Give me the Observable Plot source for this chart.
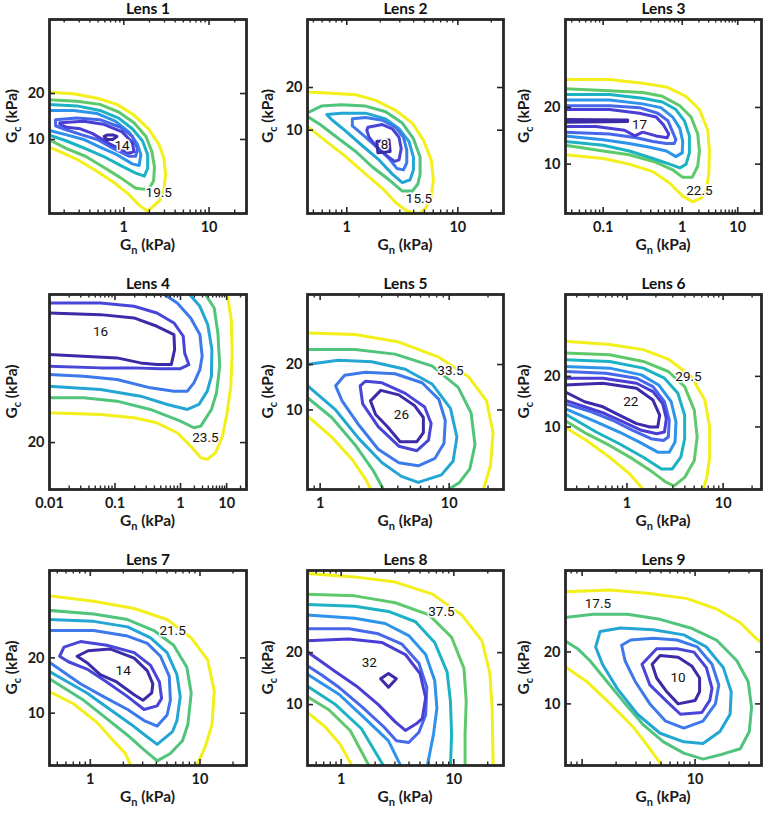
<!DOCTYPE html>
<html><head><meta charset="utf-8">
<script src="https://cdn.jsdelivr.net/npm/d3@7"></script>
<script src="https://cdn.jsdelivr.net/npm/@observablehq/plot@0.6"></script>
<style>
body{margin:0;background:#fff;}
#wrap{position:relative;width:764px;height:814px;overflow:hidden;}
#wrap svg{position:absolute;overflow:visible;}
</style></head><body><div id="wrap"></div>
<script>
// Panel titles and axis tick labels
const titles = ["Lens 1","Lens 2","Lens 3","Lens 4","Lens 5","Lens 6","Lens 7","Lens 8","Lens 9"];
const xTickValues = [[1,10],[1,10],[0.1,1,10],[0.01,0.1,1,10],[1,10],[1,10],[1,10],[1,10],[10]];
const yTickValues = [[10,20],[10,20],[10,20],[20],[10,20],[10,20],[10,20],[10,20],[10,20]];
const levelCounts = [7,6,7,6,6,7,6,7,6];

// Contours: [level index (1 = lowest), closed (1/0), [[log10 Gn, log10 Gc], ...]]
const lens1 = [
 [7,0,[[-0.88,1.31],[-0.59,1.30],[-0.31,1.27],[-0.08,1.23],[0.12,1.16],[0.29,1.07],[0.41,0.97],[0.47,0.88],[0.49,0.77],[0.47,0.67],[0.42,0.60],[0.28,0.53],[0.18,0.57],[0.06,0.64],[-0.12,0.72],[-0.31,0.79],[-0.55,0.87],[-0.75,0.92],[-0.88,0.95]]],
 [6,0,[[-0.88,1.26],[-0.55,1.25],[-0.28,1.23],[-0.06,1.18],[0.12,1.11],[0.26,1.02],[0.33,0.92],[0.36,0.82],[0.35,0.73],[0.29,0.67],[0.14,0.68],[-0.04,0.75],[-0.24,0.82],[-0.45,0.89],[-0.67,0.94],[-0.88,1.0]]],
 [5,0,[[-0.88,1.23],[-0.55,1.22],[-0.28,1.19],[-0.06,1.14],[0.10,1.07],[0.22,0.99],[0.28,0.90],[0.28,0.81],[0.24,0.76],[0.14,0.78],[-0.04,0.83],[-0.24,0.89],[-0.45,0.94],[-0.67,0.99],[-0.88,1.03]]],
 [4,0,[[-0.88,1.19],[-0.59,1.19],[-0.31,1.17],[-0.10,1.12],[0.06,1.05],[0.16,0.97],[0.20,0.90],[0.18,0.83],[0.10,0.84],[-0.08,0.90],[-0.28,0.95],[-0.47,1.0],[-0.67,1.03],[-0.88,1.06]]],
 [3,1,[[-0.80,1.13],[-0.55,1.14],[-0.28,1.13],[-0.04,1.08],[0.10,1.02],[0.16,0.94],[0.14,0.89],[0.06,0.89],[-0.12,0.94],[-0.31,1.0],[-0.49,1.03],[-0.71,1.07],[-0.80,1.09]]],
 [2,1,[[-0.75,1.11],[-0.47,1.12],[-0.24,1.10],[-0.02,1.05],[0.10,0.98],[0.12,0.92],[0.06,0.91],[-0.16,0.97],[-0.37,1.04],[-0.51,1.07],[-0.67,1.08],[-0.75,1.10]]],
 [1,1,[[-0.23,1.02],[-0.19,1.03],[-0.13,1.03],[-0.08,1.02],[-0.13,1.0],[-0.20,1.0]]]
];
const lens2 = [
 [6,0,[[-0.36,1.27],[-0.14,1.26],[0.08,1.25],[0.26,1.21],[0.44,1.14],[0.59,1.05],[0.69,0.93],[0.76,0.79],[0.78,0.65],[0.76,0.53],[0.71,0.45],[0.65,0.41],[0.54,0.43],[0.44,0.49],[0.32,0.59],[0.17,0.69],[-0.02,0.82],[-0.20,0.93],[-0.36,1.03]]],
 [5,0,[[-0.36,1.12],[-0.23,1.17],[-0.05,1.18],[0.17,1.17],[0.35,1.13],[0.50,1.05],[0.60,0.94],[0.66,0.81],[0.66,0.69],[0.64,0.62],[0.59,0.57],[0.50,0.57],[0.38,0.65],[0.23,0.74],[0.08,0.85],[-0.09,0.95],[-0.24,1.04],[-0.36,1.10]]],
 [4,1,[[-0.18,1.11],[-0.05,1.12],[0.17,1.12],[0.35,1.08],[0.47,1.01],[0.56,0.92],[0.60,0.81],[0.60,0.72],[0.57,0.65],[0.50,0.63],[0.41,0.69],[0.29,0.79],[0.14,0.89],[-0.02,1.0],[-0.13,1.07]]],
 [3,1,[[0.05,1.08],[0.17,1.09],[0.32,1.07],[0.44,1.02],[0.51,0.95],[0.54,0.86],[0.54,0.77],[0.51,0.72],[0.45,0.73],[0.38,0.80],[0.27,0.88],[0.14,0.97],[0.05,1.03]]],
 [2,1,[[0.19,1.02],[0.32,1.04],[0.41,1.01],[0.47,0.95],[0.49,0.87],[0.47,0.79],[0.43,0.78],[0.36,0.82],[0.27,0.88],[0.20,0.95],[0.18,1.0]]],
 [1,1,[[0.27,0.92],[0.38,0.93],[0.39,0.85],[0.28,0.84]]]
];
const lens3 = [
 [7,0,[[-1.48,1.45],[-0.92,1.45],[-0.50,1.43],[-0.20,1.41],[0.07,1.36],[0.31,1.29],[0.46,1.18],[0.49,1.07],[0.48,0.95],[0.43,0.86],[0.34,0.82],[0.19,0.80],[0.01,0.83],[-0.16,0.90],[-0.37,0.96],[-0.67,1.0],[-1.0,1.03],[-1.48,1.05]]],
 [6,0,[[-1.48,1.40],[-0.92,1.39],[-0.50,1.38],[-0.25,1.36],[-0.03,1.31],[0.16,1.25],[0.28,1.16],[0.31,1.07],[0.28,0.99],[0.18,0.93],[0.01,0.93],[-0.12,0.97],[-0.33,1.01],[-0.67,1.05],[-1.0,1.07],[-1.48,1.10]]],
 [5,0,[[-1.48,1.37],[-0.92,1.37],[-0.50,1.35],[-0.25,1.33],[-0.08,1.29],[0.04,1.23],[0.13,1.15],[0.13,1.06],[0.07,1.0],[-0.03,0.98],[-0.16,1.0],[-0.37,1.03],[-0.67,1.07],[-1.0,1.10],[-1.48,1.12]]],
 [4,0,[[-1.48,1.34],[-0.92,1.34],[-0.50,1.32],[-0.27,1.30],[-0.12,1.25],[-0.03,1.19],[0.01,1.12],[0.0,1.06],[-0.08,1.04],[-0.20,1.07],[-0.41,1.09],[-0.67,1.11],[-1.0,1.13],[-1.48,1.15]]],
 [3,0,[[-1.48,1.31],[-0.92,1.31],[-0.54,1.30],[-0.31,1.27],[-0.18,1.23],[-0.12,1.17],[-0.08,1.13],[-0.10,1.11],[-0.20,1.11],[-0.37,1.12],[-0.58,1.14],[-0.92,1.16],[-1.48,1.17]]],
 [2,0,[[-1.48,1.29],[-0.92,1.29],[-0.54,1.27],[-0.33,1.25],[-0.24,1.21],[-0.17,1.16],[-0.19,1.14],[-0.33,1.15],[-0.50,1.17],[-0.60,1.15],[-0.73,1.18],[-1.09,1.20],[-1.48,1.20]]],
 [1,1,[[-1.48,1.237],[-0.69,1.234],[-0.69,1.227],[-1.48,1.223]]]
];
const lens4 = [
 [6,0,[[1.01,2.20],[1.10,2.04],[1.12,1.84],[1.09,1.64],[1.01,1.48],[0.91,1.34],[0.76,1.24],[0.58,1.20],[0.44,1.21],[0.22,1.28],[-0.05,1.36],[-0.36,1.42],[-0.71,1.45],[-1.22,1.47],[-2.01,1.48]]],
 [5,0,[[0.52,2.20],[0.73,2.11],[0.81,1.96],[0.85,1.76],[0.78,1.60],[0.67,1.50],[0.44,1.40],[0.29,1.39],[0.0,1.43],[-0.46,1.50],[-0.97,1.55],[-1.48,1.57],[-2.01,1.57]]],
 [4,0,[[0.17,2.20],[0.42,2.12],[0.59,2.01],[0.68,1.86],[0.67,1.70],[0.58,1.61],[0.40,1.53],[0.15,1.50],[-0.20,1.53],[-0.61,1.58],[-1.22,1.62],[-2.01,1.64]]],
 [3,0,[[-0.28,2.20],[-0.05,2.14],[0.22,2.05],[0.42,1.95],[0.47,1.82],[0.42,1.74],[0.29,1.66],[0.15,1.61],[-0.10,1.61],[-0.46,1.63],[-0.97,1.68],[-1.48,1.70],[-2.01,1.71]]],
 [2,0,[[-2.01,2.14],[-1.22,2.14],[-0.71,2.12],[-0.36,2.08],[-0.10,2.02],[0.06,1.94],[0.09,1.84],[0.18,1.77],[0.0,1.745],[-0.31,1.745],[-0.71,1.75],[-1.22,1.75],[-2.01,1.76]]],
 [1,0,[[-2.01,2.08],[-1.22,2.07],[-0.71,2.05],[-0.36,2.0],[-0.10,1.95],[-0.09,1.86],[-0.14,1.77],[-0.36,1.77],[-0.61,1.78],[-0.97,1.81],[-2.01,1.83]]]
];
const lens5 = [
 [6,0,[[-0.11,1.51],[0.27,1.50],[0.61,1.45],[0.92,1.35],[1.15,1.22],[1.29,1.06],[1.34,0.85],[1.32,0.63],[1.26,0.46]]],
 [6,0,[[-0.11,0.97],[0.09,0.82],[0.25,0.67],[0.36,0.53],[0.40,0.46]]],
 [5,0,[[-0.11,1.40],[0.27,1.40],[0.58,1.37],[0.87,1.29],[1.07,1.15],[1.17,0.98],[1.20,0.77],[1.16,0.61],[1.08,0.52],[0.97,0.46]]],
 [5,0,[[-0.11,1.09],[0.09,0.95],[0.27,0.77],[0.41,0.60],[0.50,0.46]]],
 [4,0,[[-0.11,1.30],[0.14,1.33],[0.40,1.32],[0.66,1.27],[0.87,1.17],[1.01,1.01],[1.06,0.82],[1.03,0.66],[0.94,0.57],[0.76,0.52],[0.63,0.56],[0.48,0.65],[0.30,0.81],[0.12,1.0],[-0.11,1.17]]],
 [3,1,[[0.12,1.16],[0.19,1.23],[0.35,1.25],[0.58,1.24],[0.79,1.18],[0.92,1.07],[0.97,0.93],[0.96,0.78],[0.89,0.68],[0.76,0.63],[0.61,0.65],[0.45,0.74],[0.30,0.90],[0.17,1.06]]],
 [2,1,[[0.31,1.16],[0.35,1.19],[0.48,1.18],[0.66,1.11],[0.81,1.02],[0.86,0.91],[0.84,0.80],[0.75,0.73],[0.61,0.76],[0.45,0.89],[0.33,1.04]]],
 [1,1,[[0.39,1.06],[0.47,1.13],[0.61,1.10],[0.73,1.03],[0.80,0.95],[0.80,0.85],[0.75,0.79],[0.62,0.79],[0.52,0.89],[0.43,0.97]]]
];
const lens6 = [
 [7,0,[[-0.65,1.51],[-0.18,1.49],[0.17,1.46],[0.44,1.40],[0.67,1.30],[0.81,1.16],[0.86,1.0],[0.86,0.82],[0.83,0.70],[0.79,0.62]]],
 [7,0,[[-0.65,1.0],[-0.42,0.92],[-0.18,0.82],[0.03,0.72],[0.18,0.62]]],
 [6,0,[[-0.65,1.44],[-0.18,1.43],[0.17,1.39],[0.43,1.33],[0.60,1.24],[0.70,1.10],[0.73,0.94],[0.70,0.80],[0.60,0.70],[0.49,0.65],[0.41,0.67],[0.27,0.73],[0.06,0.81],[-0.18,0.89],[-0.42,0.96],[-0.65,1.04]]],
 [5,0,[[-0.65,1.40],[-0.18,1.39],[0.17,1.35],[0.39,1.29],[0.53,1.20],[0.60,1.07],[0.60,0.93],[0.56,0.82],[0.47,0.75],[0.36,0.75],[0.17,0.82],[-0.08,0.90],[-0.32,0.97],[-0.65,1.08]]],
 [4,0,[[-0.65,1.36],[-0.18,1.35],[0.15,1.31],[0.33,1.25],[0.46,1.15],[0.51,1.03],[0.50,0.91],[0.44,0.85],[0.32,0.85],[0.13,0.91],[-0.08,0.97],[-0.32,1.03],[-0.65,1.11]]],
 [3,0,[[-0.65,1.33],[-0.22,1.32],[0.10,1.29],[0.27,1.24],[0.39,1.15],[0.44,1.04],[0.43,0.94],[0.38,0.92],[0.25,0.93],[0.06,0.98],[-0.15,1.04],[-0.37,1.09],[-0.65,1.14]]],
 [2,0,[[-0.65,1.29],[-0.25,1.29],[0.10,1.26],[0.27,1.21],[0.37,1.14],[0.41,1.05],[0.39,0.97],[0.31,0.96],[0.15,0.98],[-0.04,1.03],[-0.23,1.08],[-0.44,1.12],[-0.65,1.16]]],
 [1,0,[[-0.65,1.25],[-0.25,1.26],[0.10,1.23],[0.27,1.16],[0.34,1.07],[0.32,1.0],[0.24,1.0],[0.10,1.02],[-0.08,1.07],[-0.25,1.12],[-0.44,1.15],[-0.65,1.21]]]
];
const lens7 = [
 [6,0,[[-0.38,1.64],[0.03,1.61],[0.40,1.57],[0.70,1.51],[0.92,1.41],[1.07,1.29],[1.13,1.12],[1.11,0.94],[1.05,0.82],[0.96,0.70]]],
 [6,0,[[-0.38,1.12],[-0.15,1.05],[0.06,0.95],[0.21,0.85],[0.32,0.78],[0.38,0.70]]],
 [5,0,[[-0.38,1.56],[0.03,1.54],[0.34,1.51],[0.58,1.45],[0.76,1.37],[0.88,1.25],[0.92,1.11],[0.89,0.94],[0.84,0.85],[0.73,0.78],[0.61,0.74],[0.49,0.80],[0.34,0.88],[0.15,0.97],[-0.06,1.07],[-0.38,1.19]]],
 [4,0,[[-0.38,1.51],[0.03,1.50],[0.34,1.47],[0.55,1.41],[0.70,1.33],[0.79,1.21],[0.82,1.09],[0.79,0.96],[0.75,0.90],[0.61,0.83],[0.52,0.87],[0.37,0.94],[0.18,1.02],[-0.03,1.11],[-0.38,1.23]]],
 [3,0,[[-0.38,1.45],[0.03,1.45],[0.34,1.42],[0.52,1.38],[0.64,1.31],[0.72,1.20],[0.73,1.07],[0.70,0.99],[0.61,0.93],[0.49,0.96],[0.34,1.02],[0.12,1.09],[-0.09,1.16],[-0.38,1.28]]],
 [2,1,[[-0.28,1.31],[-0.24,1.36],[-0.09,1.39],[0.15,1.37],[0.40,1.33],[0.55,1.26],[0.63,1.17],[0.65,1.08],[0.61,1.04],[0.49,1.02],[0.34,1.09],[0.15,1.17],[-0.03,1.24],[-0.20,1.28]]],
 [1,1,[[-0.12,1.31],[-0.02,1.34],[0.18,1.35],[0.40,1.30],[0.52,1.23],[0.57,1.16],[0.56,1.11],[0.48,1.07],[0.40,1.10],[0.24,1.17],[0.09,1.21],[-0.02,1.27]]]
];
const lens8 = [
 [7,0,[[-0.31,1.76],[0.12,1.74],[0.48,1.71],[0.81,1.64],[1.07,1.52],[1.25,1.37],[1.32,1.18],[1.34,0.98],[1.35,0.63]]],
 [7,0,[[-0.31,0.96],[-0.14,0.87],[-0.01,0.77],[0.11,0.63]]],
 [6,0,[[-0.31,1.64],[0.12,1.63],[0.48,1.59],[0.78,1.52],[0.98,1.39],[1.09,1.21],[1.11,1.02],[1.10,0.83],[1.10,0.63]]],
 [6,0,[[-0.31,1.05],[-0.11,0.97],[0.08,0.85],[0.26,0.63]]],
 [5,0,[[-0.31,1.58],[0.12,1.57],[0.42,1.54],[0.66,1.48],[0.83,1.36],[0.94,1.19],[0.97,1.02],[0.98,0.83],[0.97,0.63]]],
 [5,0,[[-0.31,1.11],[-0.05,1.0],[0.18,0.86],[0.39,0.63]]],
 [4,0,[[-0.31,1.52],[0.12,1.50],[0.39,1.47],[0.60,1.40],[0.75,1.29],[0.83,1.14],[0.85,0.98],[0.82,0.83],[0.76,0.63]]],
 [4,0,[[-0.31,1.18],[-0.02,1.06],[0.21,0.92],[0.42,0.79],[0.54,0.63]]],
 [3,0,[[-0.31,1.44],[0.07,1.44],[0.33,1.41],[0.54,1.35],[0.69,1.24],[0.76,1.10],[0.75,0.94],[0.69,0.84],[0.60,0.78],[0.49,0.79],[0.38,0.87],[0.18,0.99],[-0.02,1.10],[-0.17,1.17],[-0.31,1.23]]],
 [2,0,[[-0.31,1.37],[0.07,1.38],[0.36,1.36],[0.57,1.29],[0.70,1.18],[0.75,1.04],[0.72,0.92],[0.67,0.89],[0.57,0.85],[0.48,0.90],[0.33,1.0],[0.15,1.10],[-0.05,1.19],[-0.20,1.26],[-0.31,1.31]]],
 [1,1,[[0.35,1.15],[0.42,1.18],[0.49,1.15],[0.42,1.10]]]
];
const lens9 = [
 [6,0,[[-0.16,1.65],[0.25,1.66],[0.60,1.64],[0.93,1.61],[1.19,1.55],[1.40,1.47],[1.54,1.38],[1.60,1.35]]],
 [6,0,[[-0.16,1.22],[0.04,1.13],[0.25,1.0],[0.46,0.86],[0.60,0.74],[0.72,0.63]]],
 [5,0,[[-0.16,1.50],[0.10,1.52],[0.40,1.52],[0.69,1.49],[0.96,1.44],[1.19,1.37],[1.37,1.25],[1.47,1.13],[1.50,0.98],[1.48,0.84],[1.40,0.74],[1.25,0.71],[1.07,0.68],[0.90,0.715],[0.72,0.78],[0.54,0.88],[0.37,1.01],[0.22,1.13],[0.07,1.25],[-0.04,1.32],[-0.16,1.37]]],
 [4,1,[[0.12,1.33],[0.16,1.42],[0.34,1.44],[0.63,1.43],[0.90,1.40],[1.10,1.33],[1.25,1.21],[1.32,1.07],[1.31,0.94],[1.22,0.84],[1.07,0.77],[0.90,0.78],[0.69,0.83],[0.49,0.94],[0.31,1.09],[0.18,1.23]]],
 [3,1,[[0.35,1.34],[0.43,1.37],[0.63,1.38],[0.84,1.37],[1.02,1.33],[1.15,1.23],[1.21,1.11],[1.18,1.0],[1.07,0.90],[0.90,0.86],[0.74,0.90],[0.60,1.0],[0.47,1.13],[0.38,1.25]]],
 [2,1,[[0.53,1.23],[0.66,1.32],[0.84,1.32],[0.99,1.30],[1.10,1.21],[1.15,1.09],[1.13,1.02],[1.06,0.95],[0.87,0.94],[0.74,1.02],[0.60,1.11]]],
 [1,1,[[0.62,1.23],[0.69,1.28],[0.85,1.27],[0.97,1.22],[1.04,1.15],[1.04,1.07],[1.0,1.02],[0.85,1.0],[0.75,1.07],[0.66,1.15]]]
];
const contours = [lens1, lens2, lens3, lens4, lens5, lens6, lens7, lens8, lens9];

// Contour labels: [text, log10 Gn, log10 Gc]
const levelLabels = [
 [["14",-0.02,0.96],["19.5",0.41,0.65]],
 [["8",0.34,0.90],["15.5",0.65,0.52]],
 [["17",-0.54,1.21],["22.5",0.31,0.86]],
 [["16",-1.22,1.97],["23.5",0.54,1.33]],
 [["26",0.63,0.97],["33.5",1.01,1.26]],
 [["22",0.04,1.15],["29.5",0.64,1.30]],
 [["14",0.30,1.23],["21.5",0.75,1.45]],
 [["32",0.25,1.24],["37.5",0.89,1.54]],
 [["10",0.85,1.15],["17.5",0.14,1.58]]
];

// Visible extents of each panel (log10 units)
const xExtent = [[-0.871,1.439],[-0.354,1.411],[-1.477,0,1.428],[-2,0,1.43],[-0.098,1.421],[-0.639,1.399],[-0.372,1.424],[-0.299,1.441],[-0.147,1.588]];
const yExtent = [[0.515,1.786],[0.412,1.781],[0.738,1.768],[1.019,2.191],[0.473,1.765],[0.628,1.788],[0.715,1.777],[0.647,1.777],[0.643,1.773]];

// ---- layout / style ----
const palette = ["#3c2ba8","#4a3dd4","#4767ea","#2e93ea","#1bb2c4","#5ec96a","#f3ef1a"];
const stops = [0,1/6,2/6,3/6,4/6,5/6,1];
const cols = [{left:0,w:255,ml:49,mr:9,yl:17},{left:255,w:255,ml:52,mr:7,yl:18},{left:510,w:254,ml:55,mr:3,yl:19}];
const rows = [{top:0,h:262,mt:19,mb:49},{top:268,h:266,mt:26,mb:45},{top:543,h:271,mt:27,mb:49}];
const xMid = {2:171.7, 3:180};
const ink = "#262626";
const boldFont = "Lato, 'Open Sans', sans-serif";

const wrap = document.getElementById("wrap");

for (let i = 0; i < 9; i++) {
  const c = cols[i % 3], r = rows[Math.floor(i / 3)];
  const fw = c.w - c.ml - c.mr, fh = r.h - r.mt - r.mb;
  const n = levelCounts[i];
  const pts = [];
  contours[i].forEach(([lv, closed, p], k) => {
    const q = closed ? p.concat([p[0]]) : p;
    q.forEach(([lx, ly]) => pts.push({id: k, t: (lv - 1) / (n - 1), gn: 10 ** lx, gc: 10 ** ly}));
  });
  const labs = levelLabels[i].map(([text, lx, ly]) => ({text, gn: 10 ** lx, gc: 10 ** ly}));
  const xd = xExtent[i].map(v => 10 ** v);
  const xr = xd.length === 3 ? [c.ml, xMid[i], c.w - c.mr] : [c.ml, c.w - c.mr];
  const yd = yExtent[i].map(v => 10 ** v);
  const lo = xd[0], hi = xd[xd.length - 1];
  const minor = [];
  for (let e = Math.floor(Math.log10(lo)); e <= Math.ceil(Math.log10(hi)); e++)
    for (let m = 2; m <= 9; m++) { const v = m * 10 ** e; if (v > lo && v < hi) minor.push(v); }
  const major = [];
  for (let e = -3; e <= 3; e++) { const v = 10 ** e; if (v > lo && v < hi) major.push(v); }

  const svg = Plot.plot({
    width: c.w, height: r.h,
    marginLeft: c.ml, marginRight: c.mr, marginTop: r.mt, marginBottom: r.mb,
    x: {type: "log", domain: xd, range: xr},
    y: {type: "log", domain: yd},
    color: {type: "linear", domain: stops, range: palette},
    style: {fontFamily: boldFont, fontSize: "14.5px", fontWeight: "bold", color: "#1a1a1a", background: "transparent"},
    marks: [
      Plot.line(pts, {x: "gn", y: "gc", z: "id", stroke: "t", strokeWidth: 3, strokeLinejoin: "round", strokeLinecap: "round", clip: true}),
      Plot.text(labs, {x: "gn", y: "gc", text: "text", fontFamily: "Roboto, 'DejaVu Sans', sans-serif", fontWeight: "normal", fontSize: 13.5, fill: "#111", stroke: "white", strokeWidth: 3, paintOrder: "stroke"}),
      Plot.tickX(major, {x: d => d, insetTop: fh - 6, stroke: ink, strokeWidth: 1.6}),
      Plot.tickX(major, {x: d => d, insetBottom: fh - 6, stroke: ink, strokeWidth: 1.6}),
      Plot.tickX(minor, {x: d => d, insetTop: fh - 3.5, stroke: ink, strokeWidth: 1.4}),
      Plot.tickX(minor, {x: d => d, insetBottom: fh - 3.5, stroke: ink, strokeWidth: 1.4}),
      Plot.tickY(yTickValues[i], {y: d => d, insetRight: fw - 6, stroke: ink, strokeWidth: 1.6}),
      Plot.tickY(yTickValues[i], {y: d => d, insetLeft: fw - 6, stroke: ink, strokeWidth: 1.6}),
      Plot.frame({stroke: ink, strokeWidth: 2.8}),
      Plot.axisX({ticks: xTickValues[i], tickSize: 0, tickPadding: 8, tickFormat: d => String(d), label: null, fontSize: 14.5}),
      Plot.axisY({ticks: yTickValues[i], tickSize: 0, tickPadding: 5, tickFormat: d => String(d), label: null, fontSize: 14.5}),
      Plot.text([titles[i]], {frameAnchor: "top", dy: -6, lineAnchor: "bottom", fontWeight: "bold", fontSize: 15.5, fill: "#111"})
    ]
  });
  svg.style.left = c.left + "px";
  svg.style.top = r.top + "px";
  const s = d3.select(svg);
  // x axis label with subscript
  const xl = s.append("text").attr("x", c.ml + fw / 2).attr("y", r.h - r.mb + 37)
    .attr("text-anchor", "middle").attr("fill", "#1a1a1a")
    .style("font-family", boldFont).style("font-weight", "bold").style("font-size", "15.5px").style("white-space", "pre");
  xl.append("tspan").text("G");
  xl.append("tspan").attr("dy", 4).style("font-size", "11px").text("n");
  xl.append("tspan").attr("dy", -4).text(" (kPa)");
  // y axis label with subscript
  const yl = s.append("text").attr("transform", `translate(${c.yl},${r.mt + fh / 2}) rotate(-90)`)
    .attr("text-anchor", "middle").attr("fill", "#1a1a1a")
    .style("font-family", boldFont).style("font-weight", "bold").style("font-size", "15.5px").style("white-space", "pre");
  yl.append("tspan").text("G");
  yl.append("tspan").attr("dy", 4).style("font-size", "11px").text("c");
  yl.append("tspan").attr("dy", -4).text(" (kPa)");
  wrap.appendChild(svg);
}
</script></body></html>
